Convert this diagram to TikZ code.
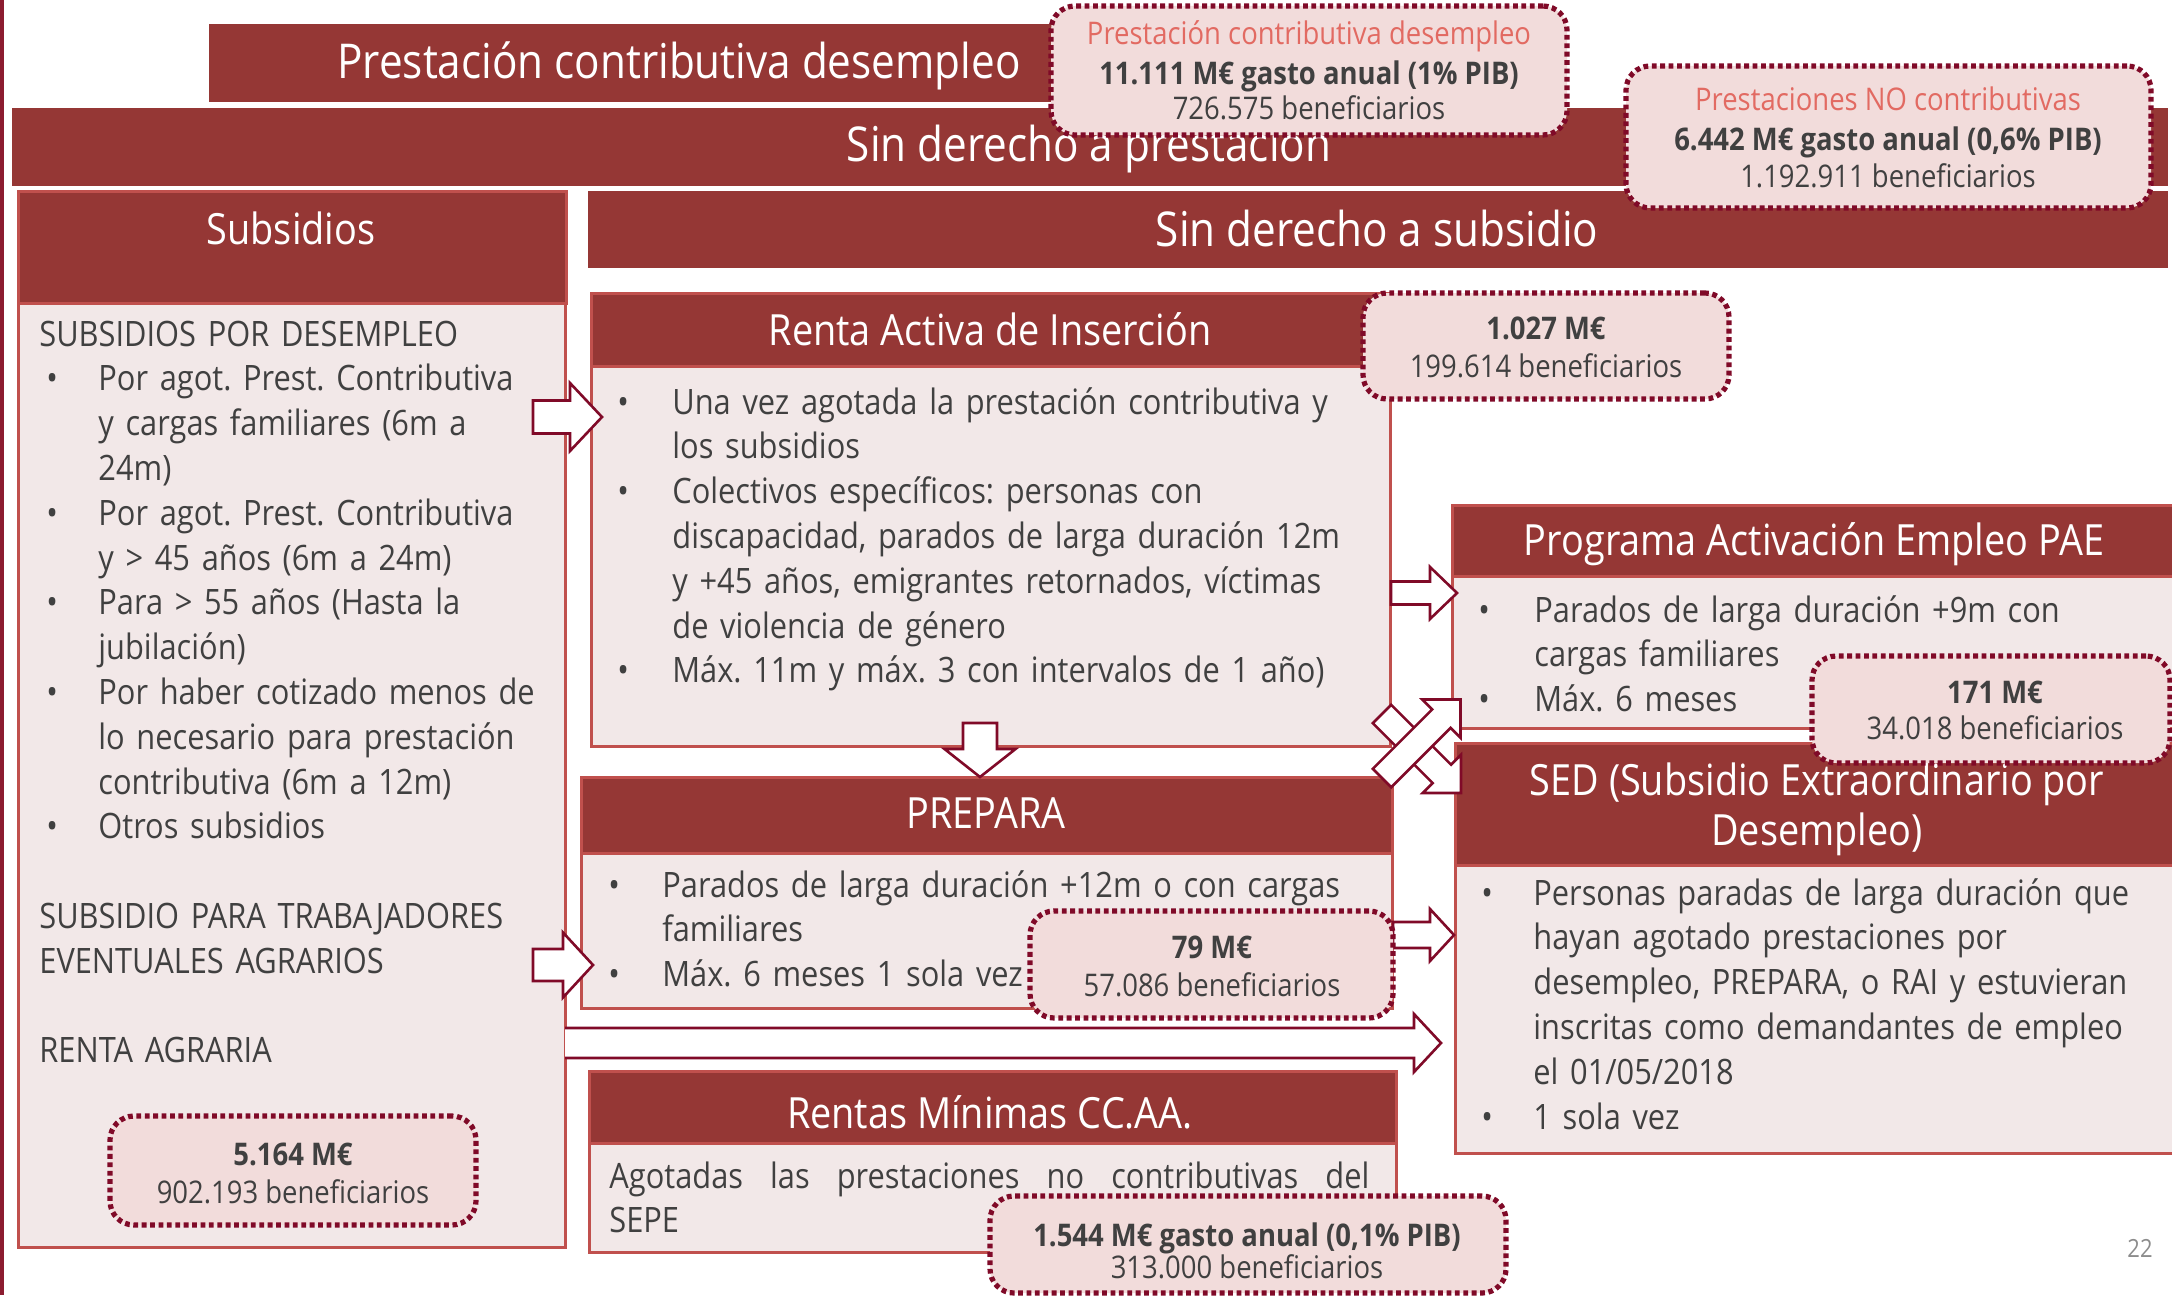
\documentclass[tikz,border=0pt]{standalone}
\usepackage{fontspec}
\setmainfont{Open Sans}[FakeStretch=0.88]
\usetikzlibrary{fit}
\definecolor{hdrred}{RGB}{149,55,53}
\definecolor{lightred}{RGB}{192,80,77}
\definecolor{bodypink}{RGB}{242,232,232}
\definecolor{callpink}{RGB}{242,220,219}
\definecolor{dotred}{RGB}{128,10,40}
\definecolor{calltitle}{RGB}{226,106,98}
\definecolor{txtgray}{RGB}{64,64,64}
\definecolor{pagegray}{RGB}{140,140,140}
\definecolor{leftline}{RGB}{140,28,48}
\frenchspacing
\newcommand\nl{\hfil\break}
\newcommand\bul[3]{\noindent\hangindent=#2\hangafter=1\makebox[#2][l]{\hspace{#1}\textbullet}#3\par}
\newcommand\blockarrow[6]{%
  \begin{scope}[shift={#1},rotate=#2]
  \draw[arrowsty] (0,-#4) -- (#3-#6,-#4) -- (#3-#6,-#5) -- (#3,0) -- (#3-#6,#5) -- (#3-#6,#4) -- (0,#4) -- cycle;
  \end{scope}}
\tikzset{
  bar/.style={fill=hdrred, draw=none, inner sep=0pt},
  hdr/.style={fill=hdrred, draw=lightred, line width=1.5pt, inner sep=0pt},
  bodybox/.style={fill=bodypink, draw=lightred, line width=1.5pt, inner sep=0pt},
  callout/.style={fill=callpink, draw=dotred, line width=2.6pt, dash pattern=on 2.4pt off 1.8pt, rounded corners=12pt, inner sep=0pt},
  titletxt/.style={text=white, font=\fontsize{24}{28}\selectfont, inner sep=0pt, anchor=base},
  hdrtxt/.style={text=white, font=\fontsize{21.5}{25}\selectfont, inner sep=0pt, anchor=base},
  bodytxt/.style={text=txtgray, font=\fontsize{17.5}{22.4}\selectfont, inner sep=0pt, align=left, anchor=base west},
  calltxt/.style={text=txtgray, font=\fontsize{15.6}{19}\selectfont, inner sep=0pt, anchor=base},
  callred/.style={calltxt, text=calltitle},
  callbold/.style={calltxt, font=\fontsize{15.6}{19}\selectfont\bfseries},
  arrowsty/.style={fill=white, draw=dotred, line width=1.3pt, line join=miter},
}
\begin{document}
\begin{tikzpicture}[x=0.5pt,y=-0.5pt]
\clip (0,0) rectangle (2172,1295);
\fill[white] (0,0) rectangle (2172,1295);
\fill[leftline] (0,0) rectangle (4,1295);

% top bars
\node[bar, fit={(209,24) (1100,102)}] (bar1) {};
\node[bar, fit={(12,108) (2168,186)}] (bar2) {};
\node[bar, fit={(588,191) (2168,268)}] (bar3) {};
\node[titletxt] (bar1t) at (679,79) {Prestación contributiva desempleo};
\node[titletxt] (bar2t) at (1089,162) {Sin derecho a prestación};
\node[titletxt] (bar3t) at (1377,246) {Sin derecho a subsidio};

% boxes
\node[hdr, fit={(18,191) (566,303)}] (subsH) {};
\node[bodybox, fit={(18,303) (565,1247)}] (subsB) {};
\node[hdr, fit={(591,293) (1390,366)}] (raiH) {};
\node[bodybox, fit={(591,366) (1390,746)}] (raiB) {};
\node[hdr, fit={(581,777) (1392,853)}] (prepH) {};
\node[bodybox, fit={(581,853) (1392,1008)}] (prepB) {};
\node[hdr, fit={(1452,505) (2185,576)}] (paeH) {};
\node[bodybox, fit={(1452,576) (2185,728)}] (paeB) {};
\node[hdr, fit={(1455,743) (2185,865)}] (sedH) {};
\node[bodybox, fit={(1455,865) (2185,1153)}] (sedB) {};
\node[hdr, fit={(589,1071) (1396,1143)}] (rentH) {};
\node[bodybox, fit={(589,1143) (1396,1252)}] (rentB) {};

% header texts
\node[hdrtxt] (subsHt) at (291,244) {Subsidios};
\node[hdrtxt] (raiHt) at (990,345) {Renta Activa de Inserción};
\node[hdrtxt] (prepHt) at (986,828) {PREPARA};
\node[hdrtxt] (paeHt) at (1814,555) {Programa Activación Empleo PAE};
\node[hdrtxt] (sedHt1) at (1817,795) {SED (Subsidio Extraordinario por};
\node[hdrtxt] (sedHt2) at (1817,845) {Desempleo)};
\node[hdrtxt] (rentHt) at (990,1128) {Rentas Mínimas CC.AA.};

% body texts
\node[bodytxt, text width=300pt] (subsT) at (39,346) {%
\noindent SUBSIDIOS POR DESEMPLEO\par
\bul{3.5pt}{29.5pt}{Por agot. Prest. Contributiva\nl y cargas familiares (6m a\nl 24m)}
\bul{3.5pt}{29.5pt}{Por agot. Prest. Contributiva\nl y > 45 años (6m a 24m)}
\bul{3.5pt}{29.5pt}{Para > 55 años (Hasta la\nl jubilación)}
\bul{3.5pt}{29.5pt}{Por haber cotizado menos de\nl lo necesario para prestación\nl contributiva (6m a 12m)}
\bul{3.5pt}{29.5pt}{Otros subsidios}
\noindent\mbox{}\par
\noindent SUBSIDIO PARA TRABAJADORES\par
\noindent EVENTUALES AGRARIOS\par
\noindent\mbox{}\par
\noindent RENTA AGRARIA\par};

\node[bodytxt, text width=400pt] (raiT) at (617,414) {%
\bul{0pt}{27.5pt}{Una vez agotada la prestación contributiva y\nl los subsidios}
\bul{0pt}{27.5pt}{Colectivos específicos: personas con\nl discapacidad, parados de larga duración 12m\nl y +45 años, emigrantes retornados, víctimas\nl de violencia de género}
\bul{0pt}{27.5pt}{Máx. 11m y máx. 3 con intervalos de 1 año)}};

\node[bodytxt, text width=400pt] (prepT) at (608,897) {%
\bul{0pt}{27pt}{Parados de larga duración +12m o con cargas\nl familiares}
\bul{0pt}{27pt}{Máx. 6 meses 1 sola vez}};

\node[bodytxt, text width=340pt] (paeT) at (1478,622) {%
\bul{0pt}{28pt}{Parados de larga duración +9m con\nl cargas familiares}
\bul{0pt}{28pt}{Máx. 6 meses}};

\node[bodytxt, text width=340pt] (sedT) at (1481,905) {%
\bul{0pt}{26pt}{Personas paradas de larga duración que\nl hayan agotado prestaciones por\nl desempleo, PREPARA, o RAI y estuvieran\nl inscritas como demandantes de empleo\nl el 01/05/2018}
\bul{0pt}{26pt}{1 sola vez}};

\node[bodytxt, text width=380pt] (rentT) at (609,1188) {%
\noindent\hbox to 380pt{Agotadas\hfill las\hfill prestaciones\hfill no\hfill contributivas\hfill del}\nl SEPE};

% arrows
\coordinate (a1) at (533,417);
\coordinate (a2) at (533,965);
\coordinate (a3) at (1391,593);
\coordinate (a4) at (1393,935);
\coordinate (a5) at (980,723);
\coordinate (a6) at (1382,778);
\coordinate (a7) at (1382,714);
\blockarrow{(a1)}{0}{69}{16.5}{34}{32}
\blockarrow{(a2)}{0}{60}{16}{32.5}{30}
\blockarrow{(a3)}{0}{66}{11.5}{26}{27}
\blockarrow{(a4)}{0}{61}{13}{26}{24}
\blockarrow{(a5)}{-90}{54}{17}{35.5}{28}
\blockarrow{(a7)}{-45}{111.7}{13}{27}{27}
\blockarrow{(a6)}{45}{111}{13}{27}{27}
% long arrow with open tail
\coordinate (a8) at (565,1043);
\begin{scope}[shift={(a8)}]
\fill[white] (0,-15) -- (849,-15) -- (849,-29) -- (876,0) -- (849,29) -- (849,15) -- (0,15) -- cycle;
\draw[arrowsty, fill=none] (0,-15) -- (849,-15) -- (849,-29) -- (876,0) -- (849,29) -- (849,15) -- (0,15);
\end{scope}

% callouts
\node[callout, fit={(1051,6) (1567,135)}] (c1) {};
\node[callred] (c1a) at (1309,44.5) {Prestación contributiva desempleo};
\node[callbold] (c1b) at (1309,84.5) {11.111 M€ gasto anual (1\% PIB)};
\node[calltxt] (c1c) at (1309,119.5) {726.575 beneficiarios};

\node[callout, fit={(1626,66) (2151,208)}] (c2) {};
\node[callred] (c2a) at (1888,110.5) {Prestaciones NO contributivas};
\node[callbold] (c2b) at (1888,150.5) {6.442 M€ gasto anual (0,6\% PIB)};
\node[calltxt] (c2c) at (1888,187.5) {1.192.911 beneficiarios};

\node[callout, fit={(1363,293) (1729,399)}] (c3) {};
\node[callbold] (c3a) at (1546,339.5) {1.027 M€};
\node[calltxt] (c3b) at (1546,377.5) {199.614 beneficiarios};

\node[callout, fit={(1812,656) (2170,763)}] (c4) {};
\node[callbold] (c4a) at (1995,703.5) {171 M€};
\node[calltxt] (c4b) at (1995,739.5) {34.018 beneficiarios};

\node[callout, fit={(1030,911) (1393,1018)}] (c5) {};
\node[callbold] (c5a) at (1212,958.5) {79 M€};
\node[calltxt] (c5b) at (1212,996.5) {57.086 beneficiarios};

\node[callout, fit={(110,1116) (476,1225)}] (c6) {};
\node[callbold] (c6a) at (293,1165.5) {5.164 M€};
\node[calltxt] (c6b) at (293,1203.5) {902.193 beneficiarios};

\node[callout, fit={(990,1196) (1506,1293)}] (c7) {};
\node[callbold] (c7a) at (1247,1246.5) {1.544 M€ gasto anual (0,1\% PIB)};
\node[calltxt] (c7b) at (1247,1278.5) {313.000 beneficiarios};

\node[text=pagegray, font=\fontsize{12.5}{15}\selectfont, inner sep=0pt, anchor=base] (pg) at (2140,1257) {22};
\end{tikzpicture}
\end{document}
